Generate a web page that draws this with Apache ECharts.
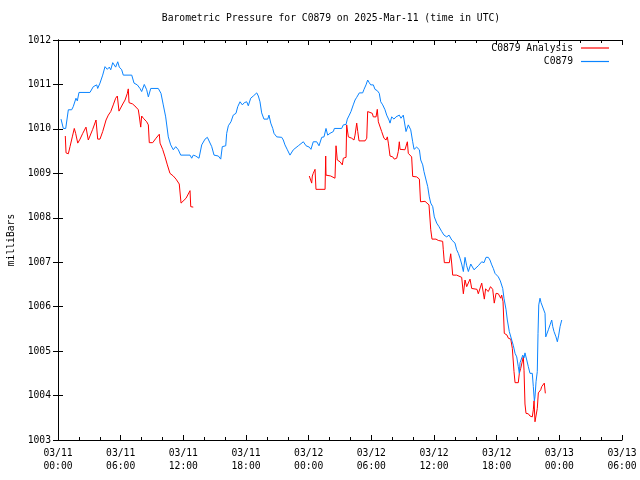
<!DOCTYPE html>
<html>
<head>
<meta charset="utf-8">
<script src="https://cdn.jsdelivr.net/npm/echarts@6/dist/echarts.min.js"></script>
<style>html,body{margin:0;padding:0;background:#fff;}#chart{width:640px;height:480px;}</style>
</head>
<body>
<div id="chart"></div>
<script>
// Hours since 2025-03-11 00:00 UTC, pressure in millibars
const stationHours = [0.29,0.51,0.74,0.99,1.31,1.46,1.72,1.85,2.01,3.06,3.38,3.71,3.80,4.02,4.28,4.50,4.72,4.91,5.05,5.24,5.39,5.52,5.72,5.87,6.10,6.25,7.06,7.28,7.59,7.85,8.01,8.26,8.49,8.65,8.88,9.60,9.86,10.08,10.31,10.56,10.79,11.04,11.27,11.52,11.75,12.64,12.80,12.95,13.18,13.50,13.76,14.08,14.30,14.49,14.72,14.94,15.35,15.58,15.73,16.06,16.15,16.31,16.56,16.78,17.04,17.21,17.43,17.65,17.84,18.07,18.22,18.45,18.70,18.86,19.03,19.18,19.34,19.50,19.72,20.08,20.20,20.37,20.56,20.68,20.94,21.42,21.57,21.73,21.96,22.21,22.53,22.70,23.01,23.49,23.75,24.06,24.22,24.44,24.77,24.99,25.25,25.47,25.66,25.82,26.04,26.36,26.46,27.16,27.32,27.58,27.70,27.89,28.05,28.27,28.44,28.60,28.85,29.17,29.30,29.49,29.65,29.80,29.94,30.19,30.35,30.57,30.76,30.90,31.09,31.31,31.47,31.69,31.79,31.95,32.17,32.36,32.68,32.84,33.06,33.25,33.32,33.54,33.77,33.96,34.09,34.34,34.60,34.73,34.92,35.04,35.24,35.40,35.55,35.69,35.88,36.03,36.26,36.48,36.74,36.96,37.22,37.44,37.70,38.01,38.17,38.33,38.49,38.65,38.81,38.97,39.13,39.29,39.52,39.71,39.83,40.02,40.24,40.57,40.79,40.98,41.20,41.36,41.53,41.68,41.84,42.16,42.35,42.58,42.70,42.90,43.02,43.21,43.44,43.60,43.76,43.92,44.07,44.17,44.24,44.40,44.50,44.62,44.71,44.88,45.03,45.19,45.41,45.51,45.61,45.67,45.77,45.89,45.96,46.03,46.15,46.25,46.41,46.63,46.70,46.79,46.95,47.11,47.27,47.37,47.49,47.68,47.81,47.94,48.07,48.23];
const stationValues = [1010.22,1010.01,1010.01,1010.43,1010.43,1010.50,1010.69,1010.63,1010.82,1010.82,1010.95,1010.99,1010.91,1011.03,1011.21,1011.40,1011.34,1011.39,1011.33,1011.49,1011.51,1011.39,1011.51,1011.39,1011.33,1011.21,1011.21,1011.03,1010.99,1010.91,1010.84,1011.00,1010.88,1010.72,1010.91,1010.91,1010.80,1010.54,1010.27,1009.82,1009.64,1009.53,1009.60,1009.53,1009.41,1009.41,1009.34,1009.41,1009.39,1009.34,1009.64,1009.77,1009.81,1009.79,1009.60,1009.41,1009.39,1009.32,1009.60,1009.62,1009.90,1010.07,1010.16,1010.31,1010.35,1010.50,1010.61,1010.54,1010.59,1010.61,1010.52,1010.69,1010.74,1010.76,1010.81,1010.74,1010.61,1010.36,1010.22,1010.22,1010.31,1010.13,1010.01,1009.90,1009.82,1009.81,1009.75,1009.64,1009.53,1009.41,1009.53,1009.54,1009.62,1009.71,1009.62,1009.59,1009.54,1009.71,1009.71,1009.62,1009.81,1009.82,1010.01,1009.86,1009.90,1009.94,1010.01,1010.01,1010.09,1010.10,1010.22,1010.31,1010.39,1010.54,1010.65,1010.71,1010.81,1010.81,1010.89,1010.99,1011.10,1011.04,1010.99,1010.99,1010.89,1010.86,1010.80,1010.61,1010.54,1010.43,1010.31,1010.20,1010.13,1010.27,1010.22,1010.27,1010.31,1010.24,1010.31,1010.27,1009.94,1010.09,1009.98,1009.71,1009.54,1009.59,1009.53,1009.30,1009.19,1009.04,1008.85,1008.70,1008.47,1008.33,1008.25,1008.02,1007.88,1007.80,1007.69,1007.61,1007.57,1007.61,1007.50,1007.43,1007.28,1007.20,1007.09,1006.96,1006.79,1007.11,1006.92,1006.79,1006.96,1006.99,1006.83,1006.81,1006.92,1007.01,1006.99,1007.11,1007.11,1007.05,1006.94,1006.86,1006.75,1006.67,1006.58,1006.41,1006.19,1005.93,1005.70,1005.44,1005.25,1005.12,1004.95,1004.87,1004.65,1004.50,1004.74,1004.78,1004.91,1004.85,1004.96,1004.80,1004.65,1004.50,1004.50,1004.20,1003.88,1003.97,1004.31,1004.54,1005.40,1006.04,1006.19,1006.09,1006.11,1005.85,1005.32,1005.36,1005.48,1005.59,1005.70,1005.55,1005.44,1005.32,1005.21,1005.36,1005.55,1005.70];

const analysisHours1 = [0.70,0.77,0.99,1.15,1.37,1.56,1.69,1.89,2.11,2.37,2.68,2.90,3.06,3.32,3.64,3.80,4.02,4.28,4.60,4.82,5.05,5.29,5.52,5.68,5.84,6.03,6.20,6.42,6.64,6.73,6.80,7.15,7.47,7.69,7.78,7.92,8.01,8.17,8.49,8.65,8.74,9.07,9.38,9.70,9.77,10.02,10.25,10.47,10.72,11.04,11.30,11.61,11.78,11.94,12.26,12.64,12.71,12.95];
const analysisValues1 = [1009.84,1009.46,1009.44,1009.60,1009.82,1010.01,1009.90,1009.68,1009.77,1009.90,1010.04,1009.75,1009.84,1009.99,1010.20,1009.77,1009.77,1009.94,1010.20,1010.31,1010.39,1010.54,1010.69,1010.74,1010.40,1010.40,1010.56,1010.65,1010.80,1010.90,1010.59,1010.56,1010.49,1010.43,1010.29,1010.04,1010.29,1010.24,1010.16,1010.09,1009.69,1009.69,1009.79,1009.88,1009.68,1009.54,1009.37,1009.19,1009.00,1008.94,1008.87,1008.76,1008.33,1008.33,1008.44,1008.61,1008.25,1008.24];
const analysisHours2 = [24.06,24.29,24.35,24.44,24.61,24.70,25.57,25.63,25.66,26.11,26.52,26.62,26.74,27.00,27.22,27.32,27.58,27.64,27.80,28.12,28.34,28.44,28.60,28.70,28.82,29.40,29.56,29.65,30.09,30.19,30.45,30.57,30.67,30.83,30.99,31.21,31.41,31.53,31.63,31.79,32.05,32.20,32.43,32.58,32.68,32.75,33.22,33.45,33.54,33.86,33.96,34.34,34.60,34.71,35.14,35.31,35.52,35.69,35.81,36.19,36.41,36.83,36.89,36.99,37.47,37.60,37.70,37.79,38.17,38.33,38.65,38.81,38.97,39.13,39.29,39.45,39.61,39.76,40.12,40.24,40.41,40.57,40.72,40.82,40.94,41.20,41.41,41.62,41.77,41.94,42.16,42.39,42.48,42.61,42.73,42.99,43.12,43.35,43.50,43.66,43.76,44.07,44.17,44.30,44.45,44.55,44.62,44.71,44.81,45.03,45.19,45.41,45.51,45.58,45.67,45.83,45.89,45.99,46.08,46.22,46.31,46.47,46.56,46.66];
const analysisValues2 = [1008.94,1008.78,1008.94,1009.00,1009.09,1008.64,1008.64,1009.39,1008.96,1008.94,1008.89,1009.62,1009.30,1009.26,1009.19,1009.34,1009.36,1010.09,1009.82,1009.79,1009.75,1009.86,1010.13,1009.94,1009.73,1009.73,1009.79,1010.39,1010.35,1010.27,1010.27,1010.44,1010.16,1010.16,1009.94,1009.79,1009.75,1009.82,1009.68,1009.39,1009.37,1009.32,1009.34,1009.49,1009.71,1009.54,1009.53,1009.71,1009.45,1009.37,1008.93,1008.92,1008.87,1008.36,1008.37,1008.33,1008.29,1007.73,1007.52,1007.52,1007.49,1007.47,1007.28,1006.99,1006.99,1007.19,1006.96,1006.71,1006.71,1006.67,1006.66,1006.29,1006.60,1006.45,1006.45,1006.62,1006.41,1006.38,1006.39,1006.29,1006.30,1006.53,1006.51,1006.17,1006.40,1006.34,1006.45,1006.39,1006.08,1006.30,1006.29,1006.19,1006.26,1006.11,1005.40,1005.36,1005.29,1005.27,1005.06,1004.54,1004.29,1004.29,1004.50,1004.61,1004.63,1004.87,1004.57,1003.81,1003.60,1003.59,1003.54,1003.52,1003.68,1003.88,1003.41,1003.41,1003.71,1004.06,1004.06,1004.13,1004.20,1004.22,1004.28,1004.05];

const titleText = 'Barometric Pressure for C0879 on 2025-Mar-11 (time in UTC)';
const stationName = 'C0879';
const analysisName = 'C0879 Analysis';
const yLabel = 'milliBars';

const zip = (a, b) => a.map((x, i) => [x, b[i]]);
const analysisData = zip(analysisHours1, analysisValues1)
  .concat([[18.5, '-']])
  .concat(zip(analysisHours2, analysisValues2));
const stationData = zip(stationHours, stationValues);

const FONT = 'DejaVu Sans Mono';
const FS = 9.7;
const pad = n => String(n).padStart(2, '0');

const chart = echarts.init(document.getElementById('chart'), null, {renderer: 'canvas'});
const axisLineStyle = {show: true, lineStyle: {color: '#000', width: 1}};
const majorTick = {show: true, inside: true, length: 5, lineStyle: {color: '#000'}};
const minorTick = {show: true, splitNumber: 3, length: 3, lineStyle: {color: '#000'}};
chart.setOption({
  animation: false,
  backgroundColor: '#fff',
  title: {
    text: titleText, left: 331, top: 13, textAlign: 'center', padding: 0,
    textStyle: {fontFamily: FONT, fontSize: FS, fontWeight: 'normal', color: '#000'}
  },
  legend: [
    {data: [analysisName], orient: 'vertical', right: 31, top: 43, align: 'right', padding: 0,
     icon: 'rect', itemWidth: 28, itemHeight: 1.2,
     textStyle: {fontFamily: FONT, fontSize: FS, color: '#000', padding: [0, 3, 0, 0]}},
    {data: [stationName], orient: 'vertical', right: 31, top: 56.5, align: 'right', padding: 0,
     icon: 'rect', itemWidth: 28, itemHeight: 1.2,
     textStyle: {fontFamily: FONT, fontSize: FS, color: '#000', padding: [0, 3, 0, 0]}}
  ],
  grid: {left: 58, right: 18, top: 40, bottom: 40, containLabel: false, outerBoundsMode: 'none'},
  xAxis: [
    {type: 'value', min: 0, max: 54, interval: 6, position: 'bottom',
     axisLine: axisLineStyle, axisTick: majorTick, minorTick: minorTick,
     splitLine: {show: false},
     axisLabel: {fontFamily: FONT, fontSize: FS, color: '#000', margin: 7, lineHeight: 13,
       formatter: h => '03/' + pad(11 + Math.floor(h / 24)) + '\n' + pad(h % 24) + ':00'}},
    {type: 'value', min: 0, max: 54, interval: 6, position: 'top',
     axisLine: axisLineStyle, axisTick: majorTick, minorTick: minorTick,
     splitLine: {show: false}, axisLabel: {show: false}}
  ],
  yAxis: [
    {type: 'value', min: 1003, max: 1012, interval: 1, position: 'left',
     name: yLabel, nameLocation: 'middle', nameGap: 41, nameRotate: 90,
     nameTextStyle: {fontFamily: FONT, fontSize: FS, color: '#000'},
     axisLine: axisLineStyle, axisTick: majorTick,
     splitLine: {show: false},
     axisLabel: {fontFamily: FONT, fontSize: FS, color: '#000', margin: 7, formatter: v => String(v)}},
    {type: 'value', min: 1003, max: 1012, interval: 1, position: 'right',
     axisLine: axisLineStyle, axisTick: majorTick,
     splitLine: {show: false}, axisLabel: {show: false}}
  ],
  series: [
    {name: analysisName, type: 'line', data: analysisData, xAxisIndex: 0, yAxisIndex: 0,
     showSymbol: false, connectNulls: false, color: '#ff0000',
     lineStyle: {width: 1, color: '#ff0000'}},
    {name: stationName, type: 'line', data: stationData, xAxisIndex: 0, yAxisIndex: 0,
     showSymbol: false, color: '#0a84ff',
     lineStyle: {width: 1, color: '#0a84ff'}}
  ]
});
</script>
</body>
</html>
